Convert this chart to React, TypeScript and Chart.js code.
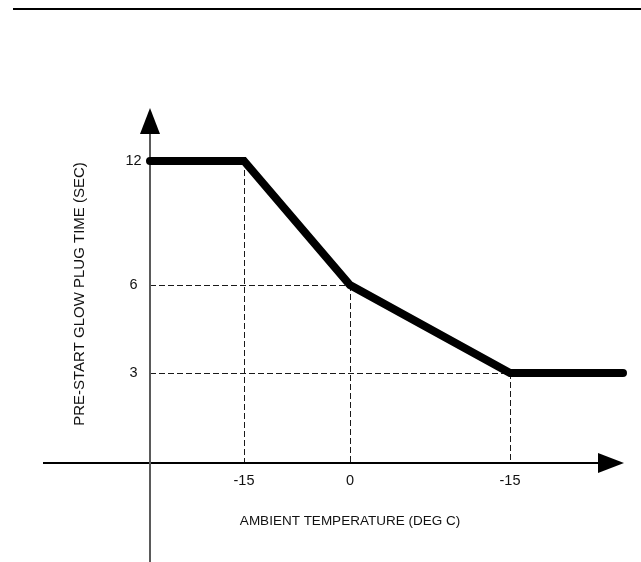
import React, { useEffect, useRef } from 'react';
import { Chart, registerables } from 'chart.js';

Chart.register(...registerables);

// Schematic diagram (not to scale): values below are positions in diagram units on the axes.
const tempLabels = ['-15', '0', '-15'];
const tempPositions = [9.4, 20, 36];
const timeLabels = ['12', '6', '3'];
const timePositions = [30.2, 17.8, 9];
const curveX = [0, 9.4, 20, 36, 47.3];
const curveY = [30.2, 30.2, 17.8, 9, 9];
const xTitle = 'AMBIENT TEMPERATURE (DEG C)';
const yTitle = 'PRE-START GLOW PLUG TIME (SEC)';
const xAxisFrom = -10.7;
const xAxisTip = 47.4;
const yAxisTip = 35.5;

const FAMILY = '"Liberation Sans", Arial, Helvetica, sans-serif';

const diagramPlugin = {
  id: 'diagram',
  beforeDatasetsDraw(chart: any) {
    const ctx: CanvasRenderingContext2D = chart.ctx;
    const xs = chart.scales.x;
    const ys = chart.scales.y;
    const X = (v: number) => xs.getPixelForValue(v);
    const Y = (v: number) => ys.getPixelForValue(v);
    const ox = X(0);
    const oy = Y(0);
    ctx.save();

    // top rule
    ctx.fillStyle = '#000';
    ctx.fillRect(13, 8, chart.width - 13, 2);

    // dashed guide lines
    ctx.strokeStyle = '#1a1a1a';
    ctx.lineWidth = 1;
    ctx.setLineDash([6, 3]);
    for (let i = 0; i < tempPositions.length; i++) {
      const px = Math.round(X(tempPositions[i])) + 0.5;
      const idx = curveX.indexOf(tempPositions[i]);
      const top = Y(curveY[idx]);
      ctx.beginPath();
      ctx.moveTo(px, top);
      ctx.lineTo(px, oy);
      ctx.stroke();
    }
    for (let i = 0; i < timePositions.length; i++) {
      const py = Math.round(Y(timePositions[i])) + 0.5;
      let idx = -1;
      for (let k = 0; k < curveY.length; k++) if (curveY[k] === timePositions[i] && curveX[k] > 0) { idx = k; break; }
      ctx.beginPath();
      ctx.moveTo(ox, py);
      ctx.lineTo(X(curveX[idx]), py);
      ctx.stroke();
    }
    ctx.setLineDash([]);

    // x axis
    const xa0 = X(xAxisFrom);
    const xTip = X(xAxisTip);
    ctx.strokeStyle = '#000';
    ctx.lineWidth = 2;
    ctx.beginPath();
    ctx.moveTo(xa0, oy);
    ctx.lineTo(xTip - 24, oy);
    ctx.stroke();
    ctx.fillStyle = '#000';
    ctx.beginPath();
    ctx.moveTo(xTip, oy);
    ctx.lineTo(xTip - 26, oy - 10);
    ctx.lineTo(xTip - 26, oy + 10);
    ctx.closePath();
    ctx.fill();

    // y axis
    const yTip = Y(yAxisTip);
    ctx.strokeStyle = '#5a5a5a';
    ctx.beginPath();
    ctx.moveTo(ox, chart.height);
    ctx.lineTo(ox, yTip + 24);
    ctx.stroke();
    ctx.fillStyle = '#000';
    ctx.beginPath();
    ctx.moveTo(ox, yTip);
    ctx.lineTo(ox - 10, yTip + 26);
    ctx.lineTo(ox + 10, yTip + 26);
    ctx.closePath();
    ctx.fill();

    // tick labels
    ctx.font = '14.5px ' + FAMILY;
    ctx.fillStyle = '#111';
    ctx.textAlign = 'center';
    ctx.textBaseline = 'middle';
    for (let i = 0; i < timeLabels.length; i++) {
      ctx.fillText(timeLabels[i], ox - 16.5, Y(timePositions[i]));
    }
    for (let i = 0; i < tempLabels.length; i++) {
      ctx.fillText(tempLabels[i], X(tempPositions[i]), oy + 18);
    }

    // axis titles
    ctx.font = '13.5px ' + FAMILY;
    ctx.fillText(xTitle, X(tempPositions[1]), oy + 58);
    ctx.save();
    ctx.font = '15px ' + FAMILY;
    ctx.translate(ox - 70, 294);
    ctx.rotate(-Math.PI / 2);
    ctx.fillText(yTitle, 0, 0);
    ctx.restore();

    ctx.restore();
  },
};

export default function App() {
  const canvasRef = useRef<HTMLCanvasElement | null>(null);

  useEffect(() => {
    const canvas = canvasRef.current;
    if (!canvas) return;
    const chart = new Chart(canvas, {
      type: 'line',
      data: {
        datasets: [
          {
            data: curveX.map((x, i) => ({ x, y: curveY[i] })),
            borderColor: '#000',
            borderWidth: 8,
            borderCapStyle: 'round',
            borderJoinStyle: 'miter',
            pointRadius: 0,
            tension: 0,
            fill: false,
            clip: false as any,
          },
        ],
      },
      options: {
        responsive: false,
        animation: false,
        devicePixelRatio: 1,
        layout: { padding: 0 },
        plugins: {
          legend: { display: false },
          tooltip: { enabled: false },
          title: { display: false },
        },
        events: [],
        scales: {
          x: { type: 'linear', min: -15, max: 49.1, display: false },
          y: { type: 'linear', min: -9.9, max: 46.3, display: false },
        },
      },
      plugins: [diagramPlugin],
    });
    return () => chart.destroy();
  }, []);

  return (
    <div style={{ position: 'absolute', left: 0, top: 0, width: 641, height: 562, background: '#fff' }}>
      <canvas ref={canvasRef} width={641} height={562} style={{ display: 'block', width: 641, height: 562 }} />
    </div>
  );
}
